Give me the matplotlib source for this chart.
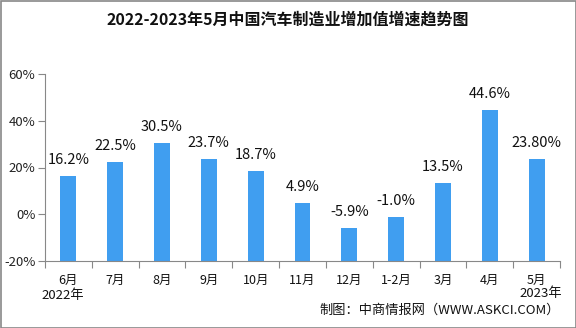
import matplotlib
matplotlib.use("Agg")
import matplotlib.pyplot as plt
from matplotlib.patches import Rectangle

plt.rcParams['font.family'] = ['Noto Sans CJK SC', 'DejaVu Sans']

categories = ["6月", "7月", "8月", "9月", "10月", "11月", "12月", "1-2月", "3月", "4月", "5月"]
values = [16.2, 22.5, 30.5, 23.7, 18.7, 4.9, -5.9, -1.0, 13.5, 44.6, 23.8]
value_labels = ["16.2%", "22.5%", "30.5%", "23.7%", "18.7%", "4.9%", "-5.9%", "-1.0%", "13.5%", "44.6%", "23.80%"]
y_ticks = [-20, 0, 20, 40, 60]

y_min, y_max = -20, 60

fig = plt.figure(figsize=(5.76, 3.28), dpi=100)
ax = fig.add_axes([45/576, 1-261/328, (560-45)/576, (261-74)/328])

x = list(range(len(categories)))
# bars rise from the bottom of the value axis
ax.bar(x, [v - y_min for v in values], bottom=y_min, width=0.34, color="#409EF0", zorder=2)

for xi, v, lab in zip(x, values, value_labels):
    ax.text(xi, v + 6.8, lab, ha="center", va="center", fontsize=10.5, color="#111111")

ax.set_xlim(-0.5, len(categories) - 0.5)
ax.set_ylim(y_min, y_max)
ax.set_yticks(y_ticks)
ax.set_yticklabels([f"{t}%" for t in y_ticks], fontsize=9.5, color="#222222")
ax.set_xticks([i + 0.5 for i in range(-1, len(categories))])
ax.set_xticklabels([])
ax.set_xticks(x, minor=True)
ax.set_xticklabels(categories, minor=True, fontsize=9, color="#111111")
ax.tick_params(axis="x", which="minor", length=0, pad=9)
ax.tick_params(axis="x", which="major", length=5, color="#888888")
ax.tick_params(axis="y", length=5, color="#888888", pad=2)

for s in ["top", "right"]:
    ax.spines[s].set_visible(False)
for s in ["left", "bottom"]:
    ax.spines[s].set_color("#888888")

fig.text(288/576, 1-20/328, "2022-2023年5月中国汽车制造业增加值增速趋势图",
         ha="center", va="center", fontsize=11.5, fontweight="bold", color="#111111")
fig.text(63/576, 1-295/328, "2022年", ha="center", va="center", fontsize=9.5, color="#111111")
fig.text(562/576, 1-294/328, "2023年", ha="right", va="center", fontsize=9.5, color="#111111")
fig.text(560/576, 1-310/328, "制图：中商情报网（WWW.ASKCI.COM）", ha="right", va="center",
         fontsize=9.5, color="#111111")

fig.patches.append(Rectangle((0.5/576, 0.5/328), 1-1/576, 1-1/328, transform=fig.transFigure,
                             fill=False, edgecolor="#888888", linewidth=1.2))

fig.savefig("out.png", dpi=100)
